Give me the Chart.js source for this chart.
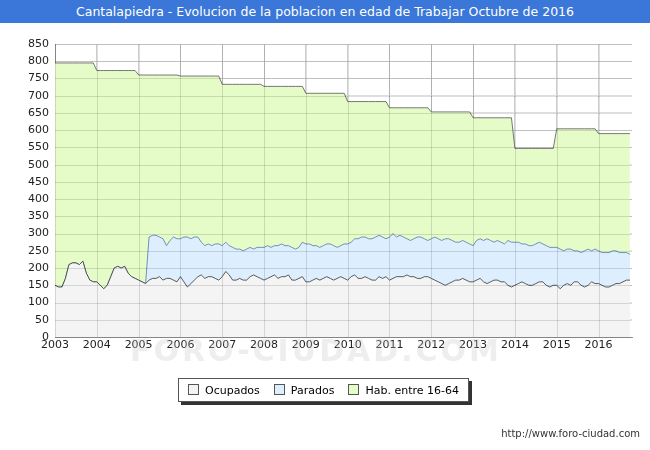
<!DOCTYPE html>
<html><head><meta charset="utf-8">
<script src="https://cdn.jsdelivr.net/npm/chart.js@4"></script>
<style>
body{margin:0;width:650px;height:450px;background:#fff;font-family:Verdana,"DejaVu Sans",sans-serif;position:relative;overflow:hidden}
#title{position:absolute;left:0;top:0;width:650px;height:23px;background:#3a77d9;color:#fff;font-size:12.5px;line-height:23px;text-align:center}
#c{position:absolute;left:0;top:0}
#legend{position:absolute;left:178px;top:378px;width:289px;height:22px;border:1px solid #555;background:#fff;box-shadow:3px 3px 0 #333;font-size:11px;display:flex;align-items:center;justify-content:center;gap:14px}
#legend span.b{display:inline-block;width:9px;height:9px;border:1px solid #555;margin-right:6px;vertical-align:-1px}
#url{position:absolute;right:10px;top:428px;font-size:10px;color:#333}
#wm{position:absolute;left:130px;top:333px;font-size:30px;color:rgba(200,200,200,0.3);letter-spacing:3px;font-weight:bold}
</style></head><body>
<canvas id="c" width="650" height="450"></canvas>
<div id="title">Cantalapiedra - Evolucion de la poblacion en edad de Trabajar Octubre de 2016</div>
<div id="wm">FORO-CIUDAD.COM</div>
<div id="legend"><div><span class="b" style="background:#f4f4f4"></span>Ocupados</div><div><span class="b" style="background:#ddeeff"></span>Parados</div><div><span class="b" style="background:#e6fcc8"></span>Hab. entre 16-64</div></div>
<div id="url">http://www.foro-ciudad.com</div>
<script>
const years=[2003,2004,2005,2006,2007,2008,2009,2010,2011,2012,2013,2014,2015,2016];
const habPorAno=[795,773,760,757,733,727,707,683,665,653,636,547,604,590];
const ocupados=[
150,145,145,170,210,215,215,210,220,185,165,160,
160,150,140,150,175,200,205,200,205,185,175,170,
165,160,155,165,170,170,175,165,170,170,165,160,
175,160,145,155,165,175,180,170,175,175,170,165,
175,190,180,165,165,170,165,165,175,180,175,170,
165,170,175,180,170,175,175,180,165,165,170,175,
160,160,165,170,165,170,175,170,165,170,175,170,
165,175,180,170,170,175,170,165,165,175,170,175,
165,170,175,175,175,180,175,175,170,170,175,175,
170,165,160,155,150,155,160,165,165,170,165,160,
160,165,170,160,155,160,165,165,160,160,150,145,
150,155,160,155,150,150,155,160,160,150,145,150,
150,140,150,155,150,160,160,150,145,150,160,155,
155,150,145,145,150,155,155,160,165,165];
const ocupadosMasParados=[
150,145,145,170,210,215,215,210,220,185,165,160,
160,150,140,150,175,200,205,200,205,185,175,170,
165,160,155,290,295,295,290,285,265,280,290,285,
285,290,290,285,290,290,275,265,270,265,270,270,
265,275,265,260,255,255,250,255,260,255,260,260,
260,265,260,265,265,270,265,265,260,255,260,275,
270,270,265,265,260,265,270,270,265,260,265,270,
270,275,285,285,290,290,285,285,290,295,290,285,
290,300,290,295,290,285,280,285,290,290,285,280,
285,290,285,280,285,285,280,275,275,280,275,270,
265,280,285,280,285,280,275,280,275,270,280,275,
275,275,270,270,265,265,270,275,270,265,260,260,
260,255,250,255,255,250,250,245,250,255,250,255,
250,245,245,245,250,250,245,245,245,240];
const yTicks=[0,50,100,150,200,250,300,350,400,450,500,550,600,650,700,750,800,850];
const pt=(arr)=>arr.map((v,i)=>({x:2003+i/12,y:v}));
const hab=[];
for(let i=0;i<ocupados.length;i++){hab.push({x:2003+i/12,y:habPorAno[Math.floor(i/12)]});}
const gridOver={id:'gridOver',afterDatasetsDraw(ch){
 const {ctx,chartArea:a,scales:{x,y}}=ch;ctx.save();ctx.strokeStyle='rgba(0,0,0,0.13)';ctx.lineWidth=1;
 years.forEach(v=>{const px=Math.round(x.getPixelForValue(v))+0.5;ctx.beginPath();ctx.moveTo(px,a.top);ctx.lineTo(px,a.bottom);ctx.stroke();});
 yTicks.forEach(v=>{const py=Math.round(y.getPixelForValue(v))+0.5;ctx.beginPath();ctx.moveTo(a.left,py);ctx.lineTo(a.right,py);ctx.stroke();});
 ctx.restore();}};
new Chart(document.getElementById('c'),{
type:'line',
data:{datasets:[
{label:'Ocupados',data:pt(ocupados),borderColor:'#333',backgroundColor:'#f4f4f4',fill:'origin',borderWidth:0.8,pointRadius:0,tension:0,order:1},
{label:'Parados',data:pt(ocupadosMasParados),borderColor:'#5577aa',backgroundColor:'#ddeeff',fill:'origin',borderWidth:0.8,pointRadius:0,tension:0,order:2},
{label:'Hab',data:hab,borderColor:'#555',backgroundColor:'#e6fcc8',fill:'origin',borderWidth:0.8,pointRadius:0,tension:0,order:3}
]},
plugins:[gridOver],
options:{animation:false,responsive:false,
layout:{padding:{left:0,top:44,right:18,bottom:0}},
plugins:{legend:{display:false},tooltip:{enabled:false}},
scales:{
x:{type:'linear',min:2003,max:2016.8,afterBuildTicks:s=>{s.ticks=years.map(v=>({value:v}))},
afterFit:s=>{s.height=113},
ticks:{color:'#222',font:{size:11,family:'Verdana, DejaVu Sans'},maxRotation:0,autoSkip:false,callback:v=>String(v),padding:2},
grid:{color:'#cccccc',drawTicks:false},border:{color:'#999'}},
y:{min:0,max:850,afterBuildTicks:s=>{s.ticks=yTicks.map(v=>({value:v}))},
afterFit:s=>{s.width=55},
ticks:{color:'#222',font:{size:11,family:'Verdana, DejaVu Sans'},padding:6},
grid:{color:'#dddddd',drawTicks:false},border:{color:'#999'}}
}}
});
</script>
</body></html>
